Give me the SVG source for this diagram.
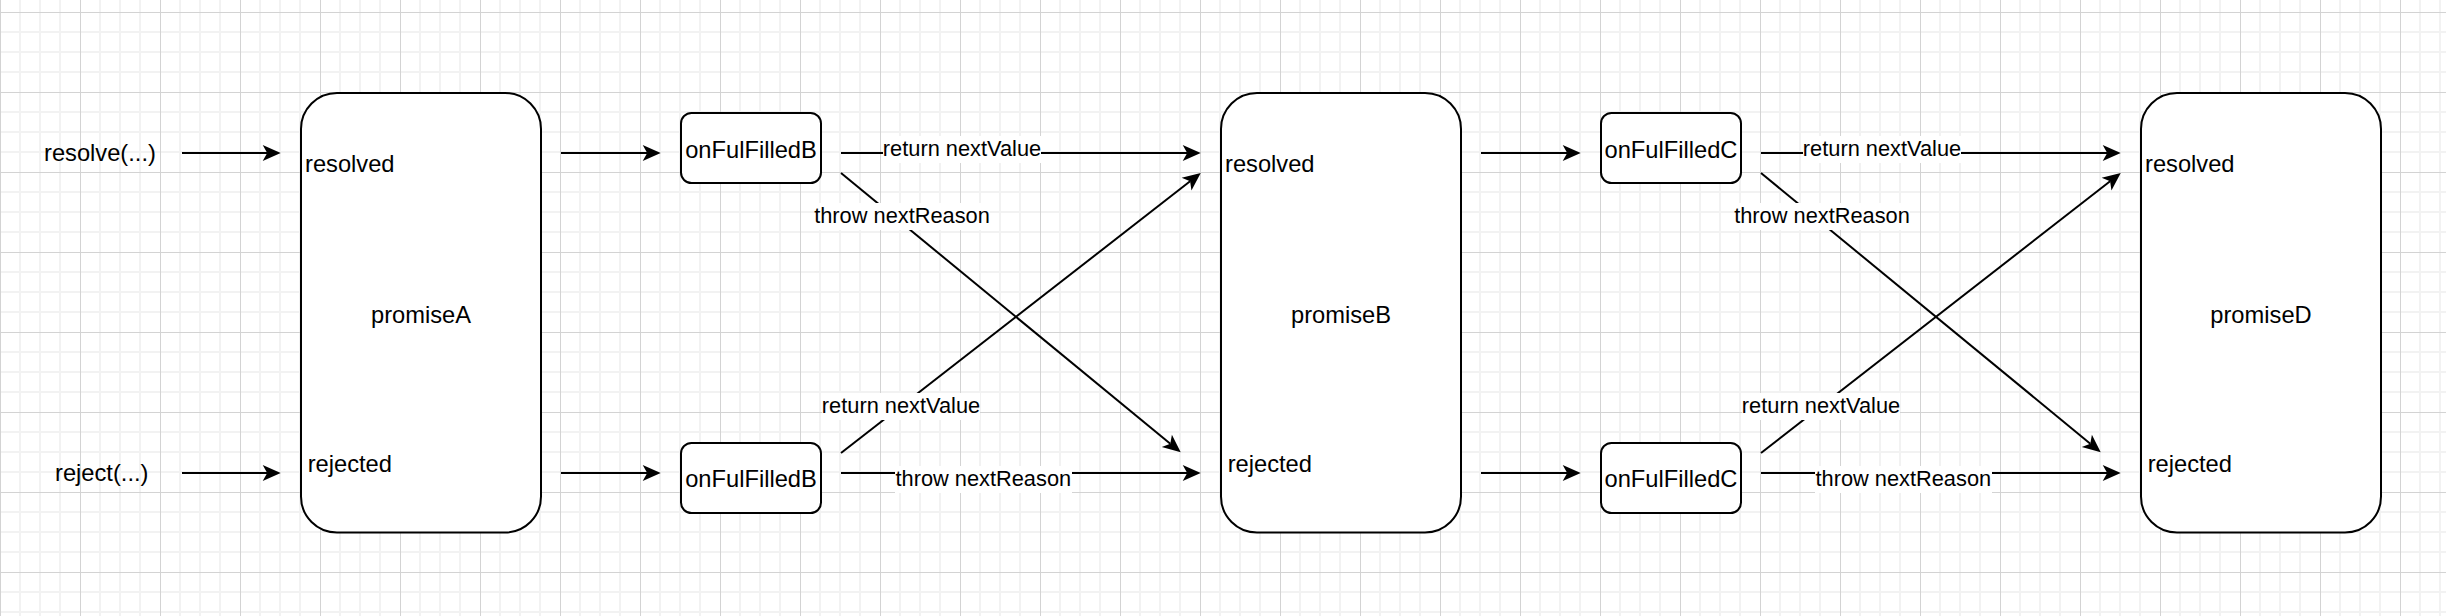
<svg xmlns="http://www.w3.org/2000/svg" width="2446" height="616" viewBox="0 0 2446 616">
<defs>
<style>
.node{fill:#fff;stroke:#000;stroke-width:2}
.t{font-family:"Liberation Sans",Arial,Helvetica,sans-serif;font-size:23.7px;fill:#000}
.tc{font-family:"Liberation Sans",Arial,Helvetica,sans-serif;font-size:23.7px;fill:#000;text-anchor:middle}
.lbl{font-family:"Liberation Sans",Arial,Helvetica,sans-serif;font-size:21.8px;fill:#000;text-anchor:middle}
.edge{fill:none;stroke:#000;stroke-width:2;marker-end:url(#arr)}
.bg{fill:#fff}
</style>
<pattern id="grid" patternUnits="userSpaceOnUse" x="0" y="12" width="80" height="80">
<path d="M20,0V80M40,0V80M60,0V80M0,20H80M0,40H80M0,60H80" stroke="#f2f2f2" stroke-width="2"/>
<path d="M0.5,0V80M0,0.5H80" stroke="#d3d3d3" stroke-width="1"/>
</pattern>
<marker id="arr" markerUnits="userSpaceOnUse" markerWidth="20" markerHeight="20" refX="4.5" refY="10" orient="auto" overflow="visible">
<path d="M0,2 L18,10 L0,18 L4.5,10 Z" fill="#000"/>
</marker>
</defs>
<rect width="2446" height="616" fill="#fff"/>
<rect width="2446" height="616" fill="url(#grid)"/>

<g id="connectors">
<line class="edge" x1="182" y1="153" x2="267.2" y2="153"/>
<line class="edge" x1="182" y1="473" x2="267.2" y2="473"/>
<line class="edge" x1="561" y1="153" x2="647.2" y2="153"/>
<line class="edge" x1="561" y1="473" x2="647.2" y2="473"/>
<line class="edge" x1="841" y1="153" x2="1187.2" y2="153"/>
<line class="edge" x1="841" y1="173" x2="1170.3" y2="443.7"/>
<line class="edge" x1="841" y1="453" x2="1190.1" y2="181.3"/>
<line class="edge" x1="841" y1="473" x2="1187.2" y2="473"/>
<line class="edge" x1="1481" y1="153" x2="1567.2" y2="153"/>
<line class="edge" x1="1481" y1="473" x2="1567.2" y2="473"/>
<line class="edge" x1="1761" y1="153" x2="2107.2" y2="153"/>
<line class="edge" x1="1761" y1="173" x2="2090.3" y2="443.7"/>
<line class="edge" x1="1761" y1="453" x2="2110.1" y2="181.3"/>
<line class="edge" x1="1761" y1="473" x2="2107.2" y2="473"/>
</g>

<g id="edge-labels">
<rect class="bg" x="883" y="136" width="158" height="27"/>
<text class="lbl" x="962" y="156">return nextValue</text>
<rect class="bg" x="815" y="203" width="175" height="27"/>
<text class="lbl" x="902" y="223.3">throw nextReason</text>
<rect class="bg" x="822" y="393" width="158" height="27"/>
<text class="lbl" x="901" y="413.3">return nextValue</text>
<rect class="bg" x="895" y="466" width="177" height="27"/>
<text class="lbl" x="983.3" y="486">throw nextReason</text>
<rect class="bg" x="1803" y="136" width="158" height="27"/>
<text class="lbl" x="1882" y="156">return nextValue</text>
<rect class="bg" x="1735" y="203" width="175" height="27"/>
<text class="lbl" x="1822" y="223.3">throw nextReason</text>
<rect class="bg" x="1742" y="393" width="158" height="27"/>
<text class="lbl" x="1821" y="413.3">return nextValue</text>
<rect class="bg" x="1815" y="466" width="177" height="27"/>
<text class="lbl" x="1903.3" y="486">throw nextReason</text>
</g>

<g id="resolve-input">
<text class="t" x="44" y="161">resolve(...)</text>
</g>
<g id="reject-input">
<text class="t" x="55" y="481">reject(...)</text>
</g>

<g id="promiseA">
<rect class="node" x="301" y="93" width="240" height="439.5" rx="36" ry="36"/>
<text class="t" x="305" y="171.7">resolved</text>
<text class="tc" x="421" y="323">promiseA</text>
<text class="t" x="307.7" y="471.7">rejected</text>
</g>

<g id="onFulFilledB-top">
<rect class="node" x="681" y="113" width="140" height="70" rx="10.5" ry="10.5"/>
<text class="tc" x="751" y="158">onFulFilledB</text>
</g>
<g id="onFulFilledB-bottom">
<rect class="node" x="681" y="443" width="140" height="70" rx="10.5" ry="10.5"/>
<text class="tc" x="751" y="487">onFulFilledB</text>
</g>

<g id="promiseB">
<rect class="node" x="1221" y="93" width="240" height="439.5" rx="36" ry="36"/>
<text class="t" x="1225" y="171.7">resolved</text>
<text class="tc" x="1341" y="323">promiseB</text>
<text class="t" x="1227.7" y="471.7">rejected</text>
</g>

<g id="onFulFilledC-top">
<rect class="node" x="1601" y="113" width="140" height="70" rx="10.5" ry="10.5"/>
<text class="tc" x="1671" y="158">onFulFilledC</text>
</g>
<g id="onFulFilledC-bottom">
<rect class="node" x="1601" y="443" width="140" height="70" rx="10.5" ry="10.5"/>
<text class="tc" x="1671" y="487">onFulFilledC</text>
</g>

<g id="promiseD">
<rect class="node" x="2141" y="93" width="240" height="439.5" rx="36" ry="36"/>
<text class="t" x="2145" y="171.7">resolved</text>
<text class="tc" x="2261" y="323">promiseD</text>
<text class="t" x="2147.7" y="471.7">rejected</text>
</g>
</svg>
